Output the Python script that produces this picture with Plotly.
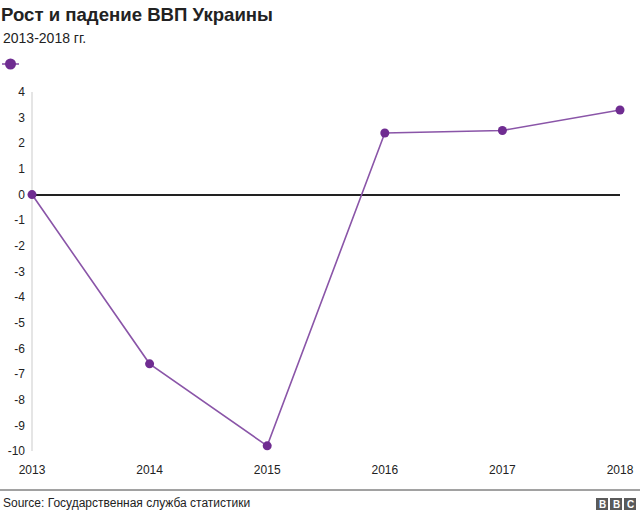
import plotly.graph_objects as go

years = [2013, 2014, 2015, 2016, 2017, 2018]
gdp_change = [0, -6.6, -9.8, 2.4, 2.5, 3.3]
y_ticks = [4, 3, 2, 1, 0, -1, -2, -3, -4, -5, -6, -7, -8, -9, -10]
x_ticks = [2013, 2014, 2015, 2016, 2017, 2018]

PURPLE = "#6f2c91"
LINE = "#8a55a8"
FONT = "Liberation Sans, Arial, Helvetica, sans-serif"

W, H = 640, 515
L, R, T, B = 32, 20, 92, 64
PW, PH = W - L - R, H - T - B


def px(x):
    return (x - L) / PW


def py(y):
    return (H - B - y) / PH


fig = go.Figure()
fig.add_trace(go.Scatter(
    x=years, y=gdp_change, mode="lines+markers", name="ВВП",
    line=dict(color=LINE, width=1.6),
    marker=dict(color=PURPLE, size=9),
    cliponaxis=False, showlegend=False,
))

fig.update_layout(
    width=W, height=H,
    margin=dict(l=L, r=R, t=T, b=B, autoexpand=False),
    paper_bgcolor="white", plot_bgcolor="white",
    font=dict(family=FONT, color="#222222", size=12),
    title=dict(text="<b>Рост и падение ВВП Украины</b>", x=0, xref="container",
               xanchor="left", y=0.985, yanchor="top",
               font=dict(size=18.6, color="#222222", family=FONT), pad=dict(l=1)),
    showlegend=False,
    xaxis=dict(range=[2013, 2018], tickvals=x_ticks, ticktext=[str(v) for v in x_ticks],
               showgrid=False, zeroline=False, showline=False,
               ticks="outside", ticklen=8, tickcolor="rgba(0,0,0,0)",
               tickfont=dict(size=12, color="#222222")),
    yaxis=dict(range=[-10, 4], tickvals=y_ticks, ticktext=[str(v) for v in y_ticks],
               showgrid=False, zeroline=True, zerolinecolor="#222222", zerolinewidth=1.8,
               showline=False, ticks="", ticklabelstandoff=6,
               tickfont=dict(size=12, color="#222222")),
    annotations=[
        dict(text="2013-2018 гг.", xref="paper", yref="paper", x=px(1), y=py(38),
             xanchor="left", yanchor="middle", showarrow=False,
             font=dict(size=14, color="#222222", family=FONT)),
        dict(text="Source: Государственная служба статистики", xref="paper", yref="paper",
             x=px(1), y=py(503), xanchor="left", yanchor="middle", showarrow=False,
             font=dict(size=12, color="#222222", family=FONT)),
    ],
    shapes=[
        # vertical axis line
        dict(type="line", xref="paper", yref="paper", x0=0, x1=0, y0=0, y1=1,
             line=dict(color="#dddddd", width=1.5), layer="below"),
        # footer rule
        dict(type="line", xref="paper", yref="paper", x0=px(0), x1=px(640),
             y0=py(490), y1=py(490), line=dict(color="#444444", width=1)),
        # legend key: line + dot
        dict(type="line", xref="paper", yref="paper", x0=px(2), x1=px(19),
             y0=py(64), y1=py(64), line=dict(color=LINE, width=1.6)),
        dict(type="circle", xref="paper", yref="paper", x0=px(5), x1=px(16),
             y0=py(69.5), y1=py(58.5), fillcolor=PURPLE, line=dict(width=0)),
    ],
)

# BBC logo blocks
for i, letter in enumerate(["B", "B", "C"]):
    x0 = 596 + i * 14
    fig.add_shape(type="rect", xref="paper", yref="paper",
                  x0=px(x0), x1=px(x0 + 12), y0=py(510), y1=py(498),
                  fillcolor="#5a5a5a", line=dict(width=0))
    fig.add_annotation(text="<b>" + letter + "</b>", xref="paper", yref="paper",
                       x=px(x0 + 6), y=py(504),
                       showarrow=False, font=dict(size=10, color="white", family=FONT),
                       xanchor="center", yanchor="middle")

fig.write_html("out.html", config={"displayModeBar": False},
               post_script="document.body.style.margin='0';document.body.style.overflow='hidden';")
